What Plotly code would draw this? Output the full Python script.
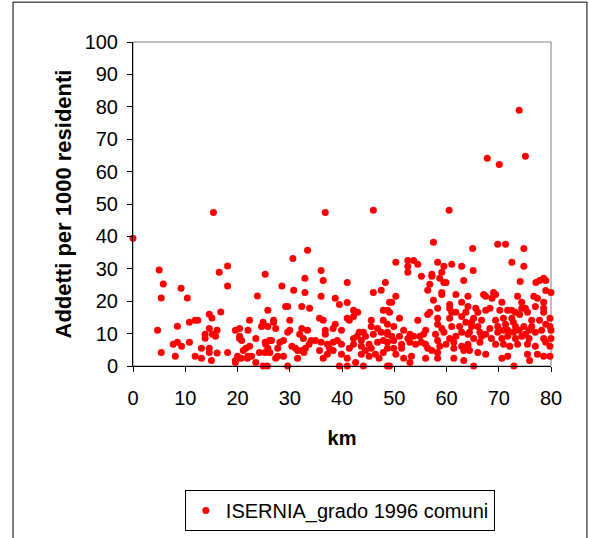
import plotly.graph_objects as go

series_name = "ISERNIA_grado 1996 comuni"
x_title = "km"
y_title = "Addetti per 1000 residenti"
x_ticks = [0, 10, 20, 30, 40, 50, 60, 70, 80]
y_ticks = [0, 10, 20, 30, 40, 50, 60, 70, 80, 90, 100]

# (km, addetti per 1000 residenti)
points = [
    (0, 39.4), (5.0, 29.6), (5.8, 25.3), (5.4, 21.0), (9.2, 24.0), (10.4, 21.0), (15.4, 47.4),
    (4.7, 11.0), (8.5, 12.3), (10.8, 13.5), (11.9, 14.1), (12.4, 14.1), (14.6, 16.0), (15.1, 14.8), (16.8, 16.7),
    (14.6, 11.6), (16.1, 11.0), (13.8, 9.8), (13.8, 8.6), (15.2, 9.8), (15.8, 9.2),
    (7.7, 6.7), (8.5, 7.3), (9.3, 6.1), (10.8, 7.3), (5.4, 4.2), (8.1, 3.0), (13.1, 5.5), (11.9, 3.0),
    (13.1, 2.4), (14.6, 5.5), (14.6, 4.2), (16.1, 4.0), (15.0, 1.7),
    (16.5, 28.9), (18.1, 30.9), (18.1, 24.7),
    (18.1, 4.2), (19.6, 11.0), (20.4, 11.6), (20.4, 8.5), (20.4, 9.2), (20.8, 7.9),
    (22.0, 11.0), (22.3, 14.1), (23.5, 8.5), (22.3, 6.1), (21.1, 4.8), (21.6, 5.5),
    (20.0, 3.0), (19.6, 1.7), (19.6, 1.1), (20.7, 2.4), (21.9, 2.4), (22.7, 3.0), (22.0, 3.0), (23.5, 1.1),
    (24.2, 4.2), (24.9, 0), (25.7, 0),
    (24.9, 13.5), (24.6, 12.2), (25.8, 12.2), (25.3, 7.3), (25.4, 6.7), (25.8, 5.5), (25.3, 4.2), (26.2, 4.2),
    (26.1, 7.9), (26.5, 7.9), (23.8, 21.6), (25.3, 28.3), (25.8, 17.2),
    (30.6, 33.2), (28.5, 24.7), (30.75, 23.4), (32.9, 27.1), (32.9, 22.7), (29.2, 18.4), (29.6, 18.4), (32.3, 18.4),
    (30.0, 14.1), (26.9, 14.1), (26.9, 13.5), (27.3, 11.6), (29.6, 10.4), (30.0, 11.0), (31.9, 9.8), (32.3, 11.6),
    (28.8, 7.9), (28.1, 7.3), (27.7, 5.5), (30.4, 6.1), (31.1, 5.5), (31.5, 4.8), (32.3, 4.8), (32.7, 4.2), (31.5, 2.4),
    (29.6, 0), (27.7, 3.0), (28.8, 3.0), (27.3, 2.4),
    (33.4, 35.7), (36.0, 29.5), (36.4, 26.4), (36.0, 21.5), (41.0, 25.8), (46.0, 22.7), (47.5, 23.4), (48.3, 25.8),
    (38.7, 20.9), (39.5, 19.0), (41.0, 19.6), (33.8, 17.8), (42.2, 17.2), (43.0, 16.6), (47.9, 17.2), (48.7, 17.2),
    (35.7, 14.7), (36.4, 14.1), (41.4, 14.1), (42.2, 15.3), (38.7, 12.9), (45.6, 14.1), (47.9, 14.1), (41.0, 14.7),
    (33.4, 11.0), (36.8, 11.0), (38.3, 11.6), (39.9, 11.0), (36.8, 9.8),
    (43.3, 10.4), (42.9, 9.2), (44.1, 10.4), (44.5, 9.2), (45.6, 12.2), (46.8, 11.6), (47.5, 10.4), (46.0, 9.8), (48.7, 9.8),
    (32.6, 8.5), (34.1, 7.9), (34.9, 7.9), (33.7, 6.7), (33.0, 5.5), (36.0, 7.3), (37.2, 6.7), (38.3, 7.3), (39.1, 7.9), (39.9, 6.7),
    (37.6, 5.5), (38.3, 4.8), (35.7, 4.8), (36.4, 2.4), (39.9, 3.6), (41.4, 5.5), (42.2, 6.7), (42.2, 8.5), (43.7, 7.9),
    (43.7, 6.1), (45.2, 6.7), (45.6, 5.5), (44.5, 4.8), (43.7, 3.6), (45.2, 3.0), (46.4, 3.6), (47.1, 2.4), (47.9, 4.2),
    (48.7, 5.5), (46.8, 7.3), (47.9, 7.9),
    (41.0, 2.4), (41.0, 0), (39.5, 0), (44.1, 0), (42.6, 1.1), (48.7, 0), (37.2, 3.6),
    (36.8, 47.4), (46.0, 48.1),
    (57.5, 38.2), (65.0, 36.3), (50.3, 32.0), (52.6, 32.6), (53.7, 32.6), (54.5, 31.4), (52.6, 30.8), (52.6, 28.9),
    (58.3, 32.0), (59.5, 30.8), (61.0, 31.4), (62.9, 30.8),
    (55.2, 27.7), (57.2, 28.3), (57.2, 27.7), (59.1, 28.9), (58.7, 27.1), (59.5, 25.8), (59.9, 25.8), (63.3, 26.4), (65.1, 29.5),
    (56.8, 25.2), (56.4, 23.4), (59.1, 22.7), (59.1, 22.1), (61.8, 22.1), (64.1, 21.5), (50.3, 21.5),
    (49.1, 19.7), (49.5, 19.7), (57.5, 20.3), (60.6, 19.0), (62.9, 19.7),
    (49.1, 16.6), (58.3, 17.8), (56.4, 15.9), (56.8, 16.6), (60.6, 17.8), (61.0, 16.6), (61.8, 16.6), (64.1, 18.4),
    (51.0, 14.7), (54.5, 14.1), (58.3, 14.7), (60.6, 14.7), (62.9, 15.3), (63.7, 13.5),
    (48.7, 12.9), (49.9, 12.2), (51.8, 11.0), (53.0, 9.8), (56.0, 11.0), (58.3, 12.9), (59.1, 11.6), (61.0, 12.2),
    (62.5, 12.2), (64.8, 13.5), (48.7, 10.4),
    (49.5, 9.2), (51.0, 9.2), (52.6, 8.5), (53.7, 9.2), (54.9, 9.2), (55.6, 9.8), (57.9, 9.8), (59.5, 10.4), (60.6, 8.5),
    (61.8, 9.2), (62.9, 10.4), (64.1, 9.8),
    (48.7, 7.3), (49.9, 7.9), (51.4, 6.7), (53.0, 7.3), (54.1, 6.7), (55.2, 7.3), (56.0, 6.7), (58.3, 7.9), (58.7, 6.1),
    (59.9, 6.7), (61.4, 7.3), (62.9, 6.1), (64.1, 6.1),
    (49.9, 5.5), (51.4, 5.5), (56.4, 5.5), (57.2, 4.8), (58.3, 4.2), (61.4, 5.5), (63.3, 4.8),
    (50.3, 3.6), (51.8, 2.4), (53.3, 3.0), (56.0, 2.4), (58.3, 2.4), (61.4, 2.4), (63.3, 1.7), (49.1, 0), (53.0, 1.1),
    (60.5, 48.1),
    (69.8, 37.6), (71.3, 37.6), (74.8, 36.3), (72.5, 32.0), (74.8, 30.8), (74.1, 26.1),
    (77.1, 25.8), (77.8, 26.4), (78.6, 27.1), (79.0, 26.4), (79.0, 23.3), (80.0, 22.7),
    (67.1, 22.1), (67.5, 21.5), (69.0, 22.7), (69.4, 22.1), (68.7, 20.9), (73.6, 21.5), (74.4, 19.7), (76.7, 21.5),
    (77.4, 20.9), (78.6, 19.7), (78.6, 17.8),
    (70.6, 19.7), (70.2, 17.2), (65.6, 17.8), (66.0, 16.6), (67.5, 17.2), (68.3, 17.8), (71.7, 17.2), (72.5, 17.2),
    (74.4, 17.8), (75.1, 17.8), (75.5, 16.6), (77.0, 18.4), (78.6, 16.6), (74.0, 15.9), (63.7, 16.6),
    (65.2, 14.7), (66.7, 14.1), (69.4, 14.1), (70.9, 14.7), (72.5, 14.7), (73.2, 16.6), (76.3, 14.1), (77.8, 14.1), (79.8, 14.7),
    (64.8, 12.2), (66.0, 12.2), (68.3, 11.6), (69.8, 12.2), (71.3, 12.9), (72.8, 13.5), (73.2, 12.2), (74.8, 12.2),
    (76.3, 12.2), (79.0, 12.9), (79.8, 12.2),
    (64.4, 10.4), (66.4, 10.4), (67.5, 9.8), (69.8, 10.4), (70.9, 11.0), (71.7, 11.0), (72.8, 10.4), (73.9, 11.0),
    (75.1, 9.8), (75.8, 11.0), (77.0, 10.4), (78.2, 11.0), (80.0, 11.0),
    (65.2, 8.5), (66.7, 9.2), (68.6, 8.5), (70.6, 8.5), (71.7, 9.2), (73.2, 8.5), (74.4, 9.2), (75.8, 8.5), (78.6, 8.5), (80.0, 8.5),
    (64.1, 6.7), (66.4, 7.3), (69.4, 6.7), (70.9, 6.7), (72.1, 6.1), (73.6, 6.7), (75.5, 6.7), (77.0, 6.1), (79.0, 7.3), (79.8, 6.1),
    (64.4, 4.8), (66.0, 4.2), (67.5, 3.6), (75.5, 3.6), (77.4, 3.6), (78.6, 3.0), (79.8, 3.0), (70.6, 2.4), (71.7, 3.0),
    (75.9, 1.7), (65.2, 0), (72.9, 0),
    (67.8, 64.1), (70.1, 62.2), (73.9, 78.9), (75.1, 64.7),
]
km = [p[0] for p in points]
addetti = [p[1] for p in points]

FONT = "Liberation Sans, Arial, sans-serif"

fig = go.Figure()
fig.add_trace(go.Scatter(
    x=km, y=addetti, mode="markers", name=series_name,
    marker=dict(color="#FF0000", size=7, line=dict(width=0)),
    showlegend=True, cliponaxis=False,
))

fig.update_layout(
    width=589, height=538,
    margin=dict(l=133, r=38, t=42, b=172, autoexpand=False),
    paper_bgcolor="white", plot_bgcolor="white",
    font=dict(family=FONT, color="black"),
    showlegend=True,
    legend=dict(
        x=0.124, y=-0.383, xanchor="left", yanchor="top",
        bordercolor="black", borderwidth=1, bgcolor="white",
        font=dict(size=20, family=FONT), itemsizing="trace",
    ),
    xaxis=dict(
        range=[0, 80], tickvals=x_ticks, ticktext=[str(v) for v in x_ticks],
        showgrid=False, zeroline=False, automargin=False,
        showline=True, linecolor="black", linewidth=1,
        ticks="outside", ticklen=5, tickcolor="black",
        tickfont=dict(size=20, family=FONT), ticklabelstandoff=9,
        title=dict(text="<b>" + x_title + "</b>", font=dict(size=20, family=FONT), standoff=22),
    ),
    yaxis=dict(
        range=[0, 100], tickvals=y_ticks, ticktext=[str(v) for v in y_ticks],
        showgrid=False, zeroline=False, automargin=False,
        showline=True, linecolor="black", linewidth=1,
        ticks="outside", ticklen=5, tickcolor="black",
        tickfont=dict(size=20, family=FONT), ticklabelstandoff=5,
        title=dict(text="<b>" + y_title + "</b>", font=dict(size=22, family=FONT), standoff=6),
    ),
    shapes=[
        dict(type="rect", xref="paper", yref="paper", x0=0, x1=1, y0=0, y1=1,
             line=dict(color="#808080", width=1), layer="below"),
        dict(type="rect", xref="paper", yref="paper", x0=-0.287, x1=1.086, y0=-0.545, y1=1.123,
             line=dict(color="black", width=1), layer="below"),
    ],
)

fig.write_html(
    "out.html",
    config={"displayModeBar": False},
    post_script="document.body.style.margin='0';document.body.style.overflow='hidden';",
)
